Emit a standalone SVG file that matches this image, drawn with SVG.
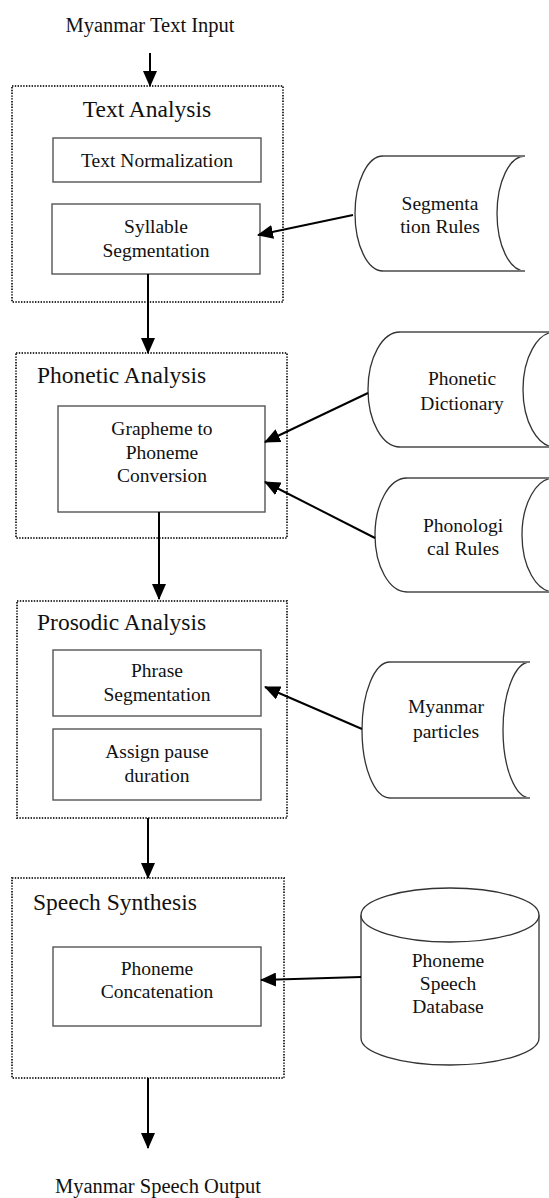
<svg xmlns="http://www.w3.org/2000/svg" width="549" height="1198" viewBox="0 0 549 1198">
  <style>
    text { font-family: "Liberation Serif", "Times New Roman", serif; fill: #111; text-anchor: middle; }
    .io { font-size: 20.5px; }
    .stage { font-size: 23.5px; }
    .label { font-size: 19.5px; }
    .stageframe { fill: none; stroke: #333; stroke-width: 2; stroke-dasharray: 1.4 1.4; }
    .step { fill: #fff; stroke: #555; stroke-width: 1.4; }
    .store { fill: #fff; stroke: #333; stroke-width: 1.3; }
    .storeedge { fill: none; stroke: #777; stroke-width: 2; }
    .link { fill: none; stroke: #000; stroke-width: 2; marker-end: url(#head); }
  </style>
  <defs>
    <marker id="head" markerUnits="userSpaceOnUse" markerWidth="16" markerHeight="14" viewBox="0 0 16 14" refX="15" refY="7" orient="auto">
      <path d="M0,0 L16,7 L0,14 Z" fill="#000"/>
    </marker>
  </defs>

  <rect width="549" height="1198" fill="#fff"/>

  <text class="io" x="150" y="32">Myanmar Text Input</text>
  <text class="io" x="158" y="1193">Myanmar Speech Output</text>

  <!-- Stage 1: text analysis -->
  <g id="text-analysis">
    <rect class="stageframe" x="12" y="86" width="271" height="216"/>
    <text class="stage" x="147" y="117">Text Analysis</text>
    <g id="text-normalization">
      <rect class="step" x="53" y="138" width="208" height="44"/>
      <text class="label" x="157" y="167">Text Normalization</text>
    </g>
    <g id="syllable-segmentation">
      <rect class="step" x="52" y="204" width="208" height="70"/>
      <text class="label" x="156" y="233">Syllable</text>
      <text class="label" x="156" y="257">Segmentation</text>
    </g>
  </g>

  <!-- Stage 2: phonetic analysis -->
  <g id="phonetic-analysis">
    <rect class="stageframe" x="16" y="353" width="271" height="185"/>
    <text class="stage" x="37" y="383" style="text-anchor:start">Phonetic Analysis</text>
    <g id="grapheme-to-phoneme">
      <rect class="step" x="58" y="406" width="207" height="106"/>
      <text class="label" x="162" y="435">Grapheme to</text>
      <text class="label" x="162" y="459">Phoneme</text>
      <text class="label" x="162" y="482">Conversion</text>
    </g>
  </g>

  <!-- Stage 3: prosodic analysis -->
  <g id="prosodic-analysis">
    <rect class="stageframe" x="17" y="601" width="270" height="217"/>
    <text class="stage" x="37" y="630" style="text-anchor:start">Prosodic Analysis</text>
    <g id="phrase-segmentation">
      <rect class="step" x="53" y="650" width="208" height="66"/>
      <text class="label" x="157" y="677">Phrase</text>
      <text class="label" x="157" y="701">Segmentation</text>
    </g>
    <g id="assign-pause">
      <rect class="step" x="53" y="729" width="208" height="71"/>
      <text class="label" x="157" y="758">Assign pause</text>
      <text class="label" x="157" y="782">duration</text>
    </g>
  </g>

  <!-- Stage 4: speech synthesis -->
  <g id="speech-synthesis">
    <rect class="stageframe" x="12" y="878" width="272" height="200"/>
    <text class="stage" x="33" y="910" style="text-anchor:start">Speech Synthesis</text>
    <g id="phoneme-concatenation">
      <rect class="step" x="53" y="947" width="208" height="79"/>
      <text class="label" x="157" y="975">Phoneme</text>
      <text class="label" x="157" y="998">Concatenation</text>
    </g>
  </g>

  <!-- Stored data resources -->
  <g id="segmentation-rules">
    <path class="store" d="M383,156 L525,156 A28,57.5 0 0 0 525,271 L383,271 A28,57.5 0 0 1 383,156 Z"/>
    <path class="storeedge" d="M383,156 L525,156 M383,271 L525,271"/>
    <text class="label" x="440" y="210">Segmenta</text>
    <text class="label" x="440" y="233">tion Rules</text>
  </g>

  <g id="phonetic-dictionary">
    <path class="store" d="M400,332 L555,332 A32,57.5 0 0 0 555,447 L400,447 A32,57.5 0 0 1 400,332 Z"/>
    <path class="storeedge" d="M400,332 L555,332 M400,447 L555,447"/>
    <text class="label" x="462" y="385">Phonetic</text>
    <text class="label" x="462" y="410">Dictionary</text>
  </g>

  <g id="phonological-rules">
    <path class="store" d="M407,478 L554,478 A32,57 0 0 0 554,592 L407,592 A32,57 0 0 1 407,478 Z"/>
    <path class="storeedge" d="M407,478 L554,478 M407,592 L554,592"/>
    <text class="label" x="463" y="532">Phonologi</text>
    <text class="label" x="463" y="555">cal Rules</text>
  </g>

  <g id="myanmar-particles">
    <path class="store" d="M390,662 L530,662 A27,68 0 0 0 530,798 L390,798 A28,68 0 0 1 390,662 Z"/>
    <path class="storeedge" d="M390,662 L530,662 M390,798 L530,798"/>
    <text class="label" x="446" y="713">Myanmar</text>
    <text class="label" x="446" y="738">particles</text>
  </g>

  <g id="phoneme-speech-database">
    <path class="store" d="M361,915 L361,1038 A89,27 0 0 0 539,1038 L539,915"/>
    <ellipse class="store" cx="450" cy="915" rx="89" ry="27"/>
    <text class="label" x="448" y="967">Phoneme</text>
    <text class="label" x="448" y="990">Speech</text>
    <text class="label" x="448" y="1013">Database</text>
  </g>

  <!-- Flow connectors -->
  <g id="connectors">
    <line class="link" x1="150" y1="53" x2="150" y2="86"/>
    <line class="link" x1="148" y1="274" x2="148" y2="353"/>
    <line class="link" x1="159" y1="512" x2="159" y2="599"/>
    <line class="link" x1="148" y1="818" x2="148" y2="878"/>
    <line class="link" x1="148" y1="1078" x2="148" y2="1148"/>
    <line class="link" x1="353" y1="215" x2="258" y2="235"/>
    <line class="link" x1="368" y1="393" x2="265" y2="442"/>
    <line class="link" x1="375" y1="538" x2="265" y2="482"/>
    <line class="link" x1="362" y1="729" x2="265" y2="687"/>
    <line class="link" x1="361" y1="977" x2="261" y2="980"/>
  </g>
</svg>
